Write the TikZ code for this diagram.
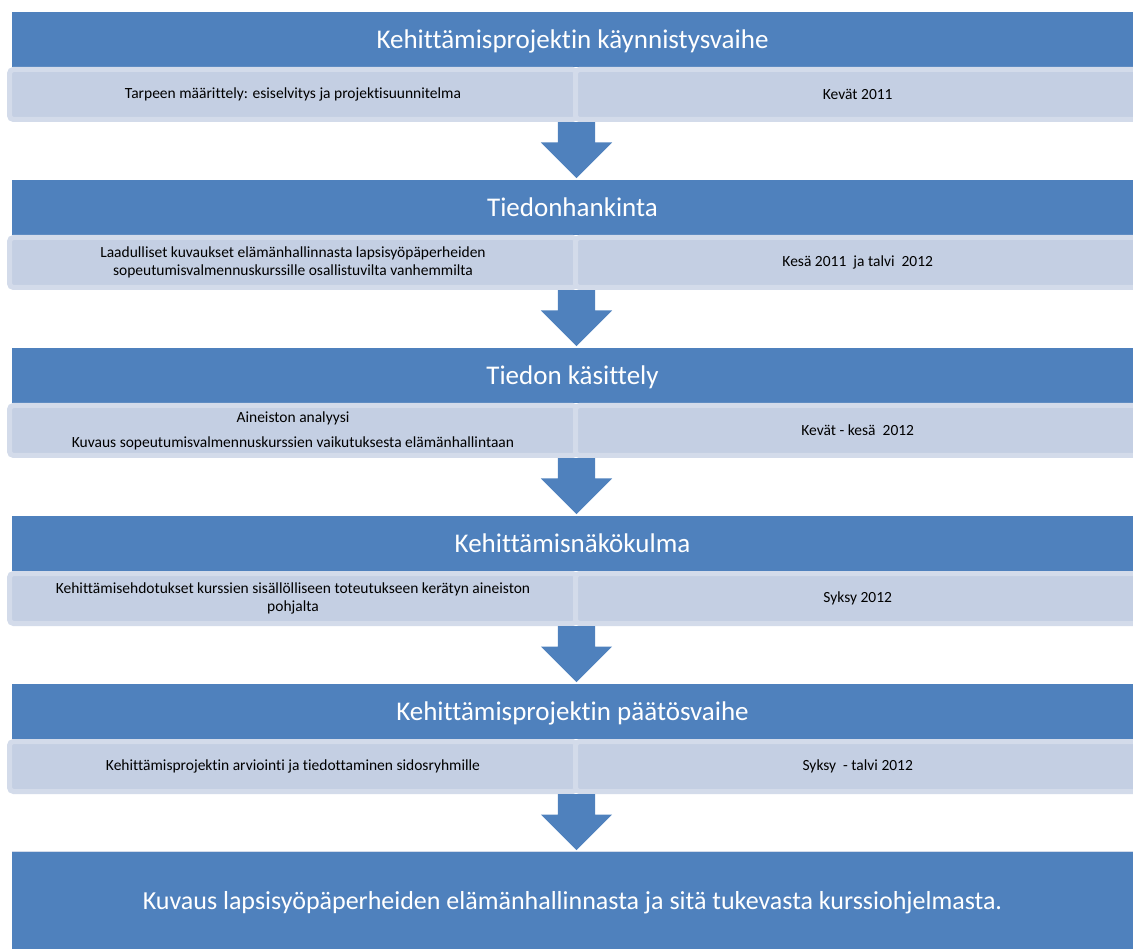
\documentclass[tikz,border=0pt]{standalone}
\usepackage{fontspec}
\setmainfont{Carlito}[Ligatures=NoCommon]
\usetikzlibrary{shapes.arrows}

\definecolor{bandblue}{HTML}{4F81BD}
\definecolor{paleblue}{HTML}{C4CFE3}
\definecolor{paleedge}{HTML}{D3DBEA}

\tikzset{
  band/.style={fill=bandblue, text=white, minimum width=1121pt, minimum height=55pt, inner sep=0pt, text depth=0pt, font=\fontsize{27}{31}\selectfont},
  cell/.style={fill=paleblue, draw=paleedge, line width=5pt, rounded corners=4pt, minimum height=50pt, inner sep=0pt, align=center, font=\fontsize{15.5}{18}\selectfont},
  leftcell/.style={cell, minimum width=567pt},
  rightcell/.style={cell, minimum width=564.5pt},
  downarrow/.style={single arrow, fill=bandblue, rotate=-90, anchor=tail, minimum height=56pt, inner xsep=0pt, inner ysep=18.5pt, single arrow head extend=17pt, single arrow tip angle=90}
}

\begin{document}
\begin{tikzpicture}[x=1pt, y=-1pt]
        \useasboundingbox (0,0) rectangle (1133,949);

        \node[band] (b1) at (572.5, 39.5) {Kehittämisprojektin käynnistysvaihe};
        \node[leftcell] (l1) at (293, 94.5) {Tarpeen määrittely: esiselvitys ja projektisuunnitelma};
        \node[rightcell] (r1) at (857.75, 94.5) {Kevät 2011};

        \node[band] (b2) at (572.5, 207.5) {Tiedonhankinta};
        \node[leftcell] (l2) at (293, 262.5) {Laadulliset kuvaukset elämänhallinnasta lapsisyöpäperheiden\\sopeutumisvalmennuskurssille osallistuvilta vanhemmilta};
        \node[rightcell] (r2) at (857.75, 262.5) {Kesä 2011 \ ja talvi \ 2012};

        \node[band] (b3) at (572.5, 375.5) {Tiedon käsittely};
        \node[leftcell] (l3) at (293, 430.5) {Aineiston analyysi\\[7pt]Kuvaus sopeutumisvalmennuskurssien vaikutuksesta elämänhallintaan};
        \node[rightcell] (r3) at (857.75, 430.5) {Kevät - kesä \ 2012};

        \node[band] (b4) at (572.5, 543.5) {Kehittämisnäkökulma};
        \node[leftcell] (l4) at (293, 598.5) {Kehittämisehdotukset kurssien sisällölliseen toteutukseen kerätyn aineiston\\pohjalta};
        \node[rightcell] (r4) at (857.75, 598.5) {Syksy 2012};

        \node[band] (b5) at (572.5, 711.5) {Kehittämisprojektin päätösvaihe};
        \node[leftcell] (l5) at (293, 766.5) {Kehittämisprojektin arviointi ja tiedottaminen sidosryhmille};
        \node[rightcell] (r5) at (857.75, 766.5) {Syksy \ - talvi 2012};

        \node[band, minimum height=97pt, font=\fontsize{26}{31}\selectfont] (fin) at (572.5, 900.5) {Kuvaus lapsisyöpäperheiden elämänhallinnasta ja sitä tukevasta kurssiohjelmasta.};
        \draw[paleedge, line width=1pt] (fin.north west) -- (fin.north east);

        \node[downarrow] (a1) at (576.5, 122) {};
        \node[downarrow] (a2) at (576.5, 290) {};
        \node[downarrow] (a3) at (576.5, 458) {};
        \node[downarrow] (a4) at (576.5, 626) {};
        \node[downarrow] (a5) at (576.5, 794) {};

\end{tikzpicture}
\end{document}
